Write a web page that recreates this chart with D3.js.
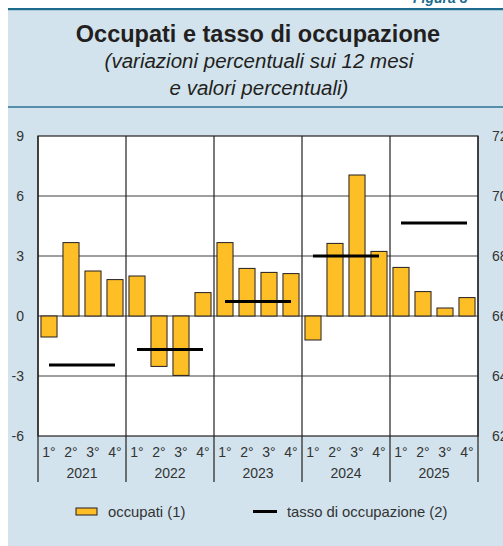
<!DOCTYPE html>
<html>
<head>
<meta charset="utf-8">
<script src="https://cdn.jsdelivr.net/npm/d3@7"></script>
<style>
  body { margin: 0; background: #fff; }
  svg { display: block; font-family: "Liberation Sans", Arial, sans-serif; }
</style>
</head>
<body>
<div id="chart"></div>
<script>
// data
const years = ["2021", "2022", "2023", "2024", "2025"];
const quarters = ["1°", "2°", "3°", "4°"];
// occupati, variazioni % sui 12 mesi (left axis)
const occupati = [-1.05, 3.67, 2.25, 1.82,
                  2.0, -2.52, -2.97, 1.17,
                  3.67, 2.38, 2.18, 2.12,
                  -1.2, 3.63, 7.05, 3.23,
                  2.43, 1.22, 0.4, 0.92];
// tasso di occupazione, annual level (right axis)
const tasso = [64.37, 64.88, 66.48, 68.0, 69.1];
const leftTicks = [-6, -3, 0, 3, 6, 9];
const rightTicks = [62, 64, 66, 68, 70, 72];

const W = 503, H = 546;
const plot = {left: 38, right: 478, top: 136, bottom: 436};

const svg = d3.select("#chart").append("svg")
    .attr("width", W)
    .attr("height", H);

// panel
svg.append("rect")
    .attr("x", 8).attr("y", 9)
    .attr("width", W - 8).attr("height", H - 9)
    .attr("fill", "#d2e3ed");
svg.append("rect")
    .attr("x", 8).attr("y", 8)
    .attr("width", W - 8).attr("height", 2.2)
    .attr("fill", "#1d6b8d");
// figure number, cut off at the top edge as in the source
svg.append("text")
    .attr("x", 413).attr("y", 3)
    .attr("fill", "#1d6b8d")
    .style("font-size", "14px")
    .style("font-weight", "bold")
    .style("font-style", "italic")
    .text("Figura 8");

// titles
svg.append("text")
    .attr("x", 258).attr("y", 42)
    .attr("text-anchor", "middle")
    .attr("fill", "#231f20")
    .style("font-size", "23.5px")
    .style("font-weight", "bold")
    .text("Occupati e tasso di occupazione");
svg.append("text")
    .attr("x", 259).attr("y", 68)
    .attr("text-anchor", "middle")
    .attr("fill", "#231f20")
    .style("font-size", "20.5px")
    .style("font-style", "italic")
    .text("(variazioni percentuali sui 12 mesi");
svg.append("text")
    .attr("x", 259).attr("y", 95)
    .attr("text-anchor", "middle")
    .attr("fill", "#231f20")
    .style("font-size", "20.5px")
    .style("font-style", "italic")
    .text("e valori percentuali)");
svg.append("line")
    .attr("x1", 8).attr("x2", W)
    .attr("y1", 107).attr("y2", 107)
    .attr("stroke", "#2b7394")
    .attr("stroke-width", 1.5);

// scales
const keys = [];
years.forEach(y => quarters.forEach(q => keys.push(y + "-" + q)));

const x = d3.scaleBand()
    .domain(keys)
    .range([plot.left, plot.right])
    .paddingInner(0.27)
    .paddingOuter(0.135);

const yL = d3.scaleLinear().domain([-6, 9]).range([plot.bottom, plot.top]);
const yR = d3.scaleLinear().domain([62, 72]).range([plot.bottom, plot.top]);

// plot background
svg.append("rect")
    .attr("x", plot.left).attr("y", plot.top)
    .attr("width", plot.right - plot.left)
    .attr("height", plot.bottom - plot.top)
    .attr("fill", "#fff");

// horizontal gridlines
svg.append("g")
    .selectAll("line")
    .data(leftTicks.filter(d => d > -6 && d < 9))
    .enter()
    .append("line")
    .attr("x1", plot.left).attr("x2", plot.right)
    .attr("y1", d => yL(d)).attr("y2", d => yL(d))
    .attr("stroke", "#7f7f7f")
    .attr("stroke-width", 1.3);

// bars
const barData = keys.map((k, i) => ({key: k, value: occupati[i]}));
svg.append("g")
    .selectAll("rect")
    .data(barData)
    .enter()
    .append("rect")
    .attr("x", d => x(d.key))
    .attr("width", x.bandwidth())
    .attr("y", d => yL(Math.max(0, d.value)))
    .attr("height", d => Math.abs(yL(d.value) - yL(0)))
    .attr("fill", "#fdbe26")
    .attr("stroke", "#231f20")
    .attr("stroke-width", 1);

// annual rate segments, from 1st to 4th quarter
svg.append("g")
    .selectAll("line")
    .data(years.map((y, i) => ({year: y, value: tasso[i]})))
    .enter()
    .append("line")
    .attr("x1", d => x(d.year + "-1°") + x.bandwidth() / 2)
    .attr("x2", d => x(d.year + "-4°") + x.bandwidth() / 2)
    .attr("y1", d => yR(d.value))
    .attr("y2", d => yR(d.value))
    .attr("stroke", "#000")
    .attr("stroke-width", 3);

// frame
svg.append("rect")
    .attr("x", plot.left).attr("y", plot.top)
    .attr("width", plot.right - plot.left)
    .attr("height", plot.bottom - plot.top)
    .attr("fill", "none")
    .attr("stroke", "#231f20")
    .attr("stroke-width", 1.2);

// year separators, running down into the label area
const step = x.step();
const bounds = years.map(y => x(y + "-1°") - (step - x.bandwidth()) / 2);
bounds.push(plot.right);
svg.append("g")
    .selectAll("line")
    .data(bounds)
    .enter()
    .append("line")
    .attr("x1", d => d).attr("x2", d => d)
    .attr("y1", plot.top).attr("y2", 482)
    .attr("stroke", "#231f20")
    .attr("stroke-width", 1.2);

// left axis labels
svg.append("g")
    .selectAll("text")
    .data(leftTicks)
    .enter()
    .append("text")
    .attr("x", 24)
    .attr("y", d => yL(d) + 5)
    .attr("text-anchor", "end")
    .attr("fill", "#333")
    .style("font-size", "14px")
    .text(d => d);

// right axis labels (cut off by the page edge, as in the source)
svg.append("g")
    .selectAll("text")
    .data(rightTicks)
    .enter()
    .append("text")
    .attr("x", 492)
    .attr("y", d => yR(d) + 5)
    .attr("fill", "#333")
    .style("font-size", "14px")
    .text(d => d);

// quarter labels
svg.append("g")
    .selectAll("text")
    .data(keys)
    .enter()
    .append("text")
    .attr("x", d => x(d) + x.bandwidth() / 2)
    .attr("y", 457)
    .attr("text-anchor", "middle")
    .attr("fill", "#333")
    .style("font-size", "14px")
    .text(d => d.split("-")[1]);

// year labels
svg.append("g")
    .selectAll("text")
    .data(years)
    .enter()
    .append("text")
    .attr("x", (d, i) => (bounds[i] + bounds[i + 1]) / 2)
    .attr("y", 478)
    .attr("text-anchor", "middle")
    .attr("fill", "#333")
    .style("font-size", "14px")
    .text(d => d);

// legend
const legend = svg.append("g");
legend.append("rect")
    .attr("x", 76).attr("y", 508)
    .attr("width", 21).attr("height", 7)
    .attr("fill", "#fdbe26")
    .attr("stroke", "#231f20")
    .attr("stroke-width", 1);
legend.append("text")
    .attr("x", 108).attr("y", 517)
    .attr("fill", "#333")
    .style("font-size", "14.8px")
    .text("occupati (1)");
legend.append("line")
    .attr("x1", 253).attr("x2", 277)
    .attr("y1", 511.5).attr("y2", 511.5)
    .attr("stroke", "#000")
    .attr("stroke-width", 3);
legend.append("text")
    .attr("x", 287).attr("y", 517)
    .attr("fill", "#333")
    .style("font-size", "14.8px")
    .text("tasso di occupazione (2)");
</script>
</body>
</html>
